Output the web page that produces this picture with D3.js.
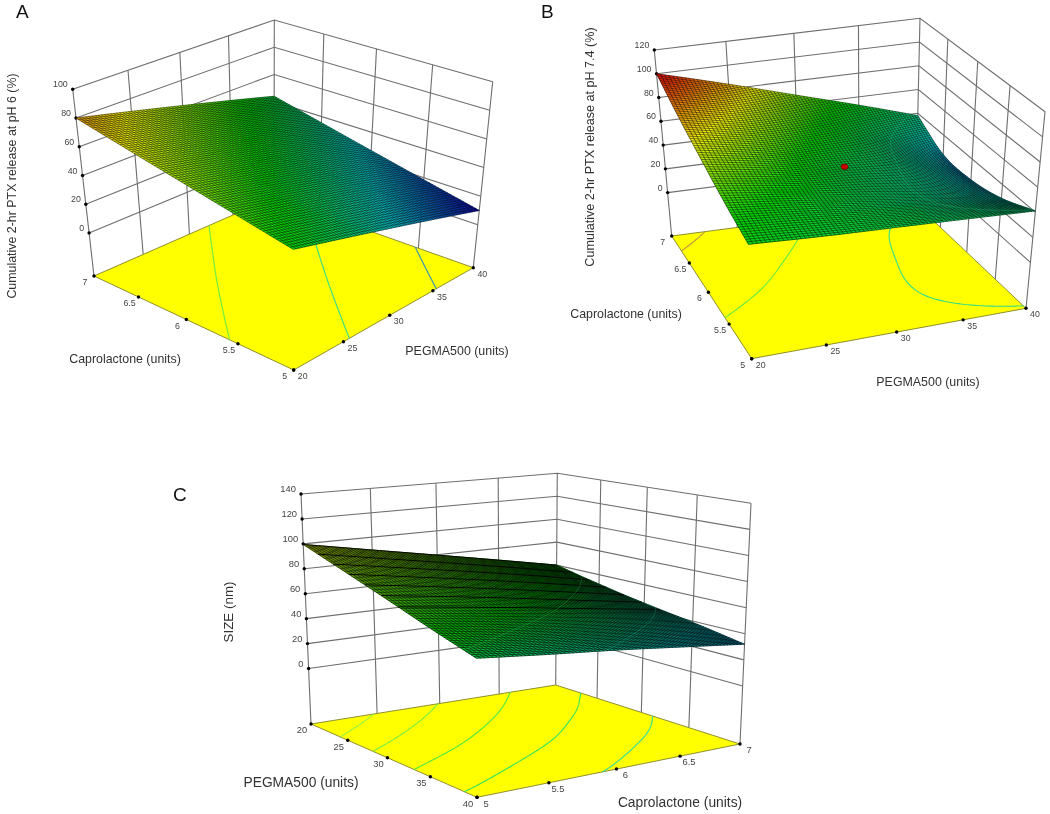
<!DOCTYPE html>
<html>
<head>
<meta charset="utf-8">
<title>Response surfaces</title>
<script src="https://cdn.jsdelivr.net/npm/d3@7"></script>
<style>
  body { margin: 0; background: #fff; }
  text { font-family: "Liberation Sans", Arial, sans-serif; }
</style>
</head>
<body>
<script>
const pegmaTicks = [20, 25, 30, 35, 40]
const caproTicks = [5, 5.5, 6, 6.5, 7]
const caproLabels = ["5", "5.5", "6", "6.5", "7"]

const releasePh6 = [
  [49, 39.2, 29.5, 19.8, 10],
  [56.8, 47.2, 37.6, 28.1, 18.5],
  [64.5, 55.1, 45.7, 36.4, 27],
  [72.2, 63, 53.9, 44.7, 35.5],
  [80, 71, 62, 53, 44]
]
const releasePh74 = [
  [54, 50, 47, 44, 41],
  [63, 55, 46, 38, 29],
  [74, 63, 49, 38, 23],
  [86, 73, 58, 42, 24],
  [100, 84, 68, 53, 38]
]
// one row per PEGMA step (20 -> 40), one column per Caprolactone step
const sizeNm = [
  [99.5, 89.5, 79.7, 69.9, 60],
  [87.6, 79, 70.4, 61.5, 52],
  [75.7, 68.4, 60.7, 52.7, 45],
  [63.5, 57, 51, 45, 39],
  [52, 47, 42.5, 37.3, 32]
]

const ph6Ticks = [0, 20, 40, 60, 80, 100]
const ph74Ticks = [0, 20, 40, 60, 80, 100, 120]
const sizeTicks = [0, 20, 40, 60, 80, 100, 120, 140]

const ph6Contours = [19, 38, 58]
const ph74Contours = [40, 65, 92]
const sizeContours = [43.5, 55, 68, 80, 90]

// contours that also show up on the surface itself
const ph74SurfaceContours = [40]
const sizeSurfaceContours = [43.5, 55]

const designPoint = [30, 6] // red dot on panel B

const ramp = ["#0000b4", "#00c0c0", "#00d800", "#f0f000", "#e00000"]

// where the box of each panel sits on the page, and which z values get which ramp colour
const layouts = {
  A: {
    floor: [[293.7, 370], [473.3, 267.7], [274, 197], [94, 276]],
    top: [[293, 171.5], [492.7, 81.7], [274.3, 20], [72.7, 89.3]],
    zFloor: -30, stops: [10, 30, 50, 72, 95]
  },
  B: {
    floor: [[751.7, 358.7], [1026, 308.3], [915.7, 204], [671.7, 236]],
    top: [[746, 161], [1045, 111.7], [920, 18.3], [654.3, 50]],
    zFloor: -36.5, stops: [8, 28, 58, 78, 100]
  },
  C: {
    floor: [[477, 797.3], [740, 744], [555.7, 685], [311, 724]],
    top: [[476, 531.5], [751, 503.3], [557.3, 473.3], [301, 494]],
    zFloor: -44.5, stops: [15, 38, 60, 105, 145]
  }
}

const MESH = 72

const svg = d3.select("body").append("svg")
  .attr("width", 1050)
  .attr("height", 814)
  .style("display", "block")
  .style("filter", "blur(0.35px)")

// unit square -> quad, corners in the order (0,0) (1,0) (1,1) (0,1)
function homography(q) {
  const [[x0, y0], [x1, y1], [x2, y2], [x3, y3]] = q
  const dx1 = x1 - x2, dx2 = x3 - x2, sx = x0 - x1 + x2 - x3
  const dy1 = y1 - y2, dy2 = y3 - y2, sy = y0 - y1 + y2 - y3
  const den = dx1 * dy2 - dx2 * dy1
  const g = (sx * dy2 - dx2 * sy) / den
  const h = (dx1 * sy - sx * dy1) / den
  const a = x1 - x0 + g * x1, b = x3 - x0 + h * x3
  const d = y1 - y0 + g * y1, e = y3 - y0 + h * y3
  return (u, v) => {
    const w = g * u + h * v + 1
    return [(a * u + b * v + x0) / w, (d * u + e * v + y0) / w]
  }
}

function catmull(p0, p1, p2, p3, t) {
  return 0.5 * (2 * p1 + (p2 - p0) * t + (2 * p0 - 5 * p1 + 4 * p2 - p3) * t * t + (3 * p1 - p0 - 3 * p2 + p3) * t * t * t)
}

// smooth value of a row of read-off values at fractional index s
function alongRow(row, s) {
  const n = row.length - 1
  const i = Math.min(Math.floor(s), n - 1)
  const at = k => k < 0 ? 2 * row[0] - row[1] : k > n ? 2 * row[n] - row[n - 1] : row[k]
  return catmull(at(i - 1), at(i), at(i + 1), at(i + 2), s - i)
}

function surfaceAt(rows, col, row) {
  return alongRow(rows.map(r => alongRow(r, col)), row)
}

function drawPanel(cfg) {
  const g = svg.append("g")
  const lay = layouts[cfg.key]
  const floorH = homography(lay.floor), topH = homography(lay.top)

  const xScale = d3.scaleLinear().domain(d3.extent(cfg.xTicks)).range(cfg.xRange)
  const yScale = d3.scaleLinear().domain(d3.extent(cfg.yTicks)).range(cfg.yRange)
  const zScale = d3.scaleLinear().domain([lay.zFloor, d3.max(cfg.zTicks)]).range([0, 1])

  const project = (x, y, z) => {
    const a = floorH(xScale(x), yScale(y)), b = topH(xScale(x), yScale(y)), t = zScale(z)
    return [a[0] + (b[0] - a[0]) * t, a[1] + (b[1] - a[1]) * t]
  }
  const seg = pts => d3.line()(pts)

  const [xMin, xMax] = d3.extent(cfg.xTicks)
  const [yMin, yMax] = d3.extent(cfg.yTicks)
  const zLow = lay.zFloor, zHigh = d3.max(cfg.zTicks)
  const xBack = cfg.xRange[1] === 1 ? xMax : xMin
  const yBack = cfg.yRange[1] === 1 ? yMax : yMin
  const xFront = xBack === xMax ? xMin : xMax
  const yFront = yBack === yMax ? yMin : yMax

  // walls
  const wallLines = []
  cfg.zTicks.forEach(z => {
    wallLines.push([project(xFront, yBack, z), project(xBack, yBack, z), project(xBack, yFront, z)])
  })
  cfg.xTicks.forEach(x => {
    if (x !== xFront) wallLines.push([project(x, yBack, zLow), project(x, yBack, zHigh)])
  })
  cfg.yTicks.forEach(y => {
    if (y !== yBack) wallLines.push([project(xBack, y, zLow), project(xBack, y, zHigh)])
  })
  wallLines.push([project(xFront, yBack, zLow), project(xFront, yBack, zHigh)])

  g.append("g").selectAll("path").data(wallLines).join("path")
    .attr("d", seg)
    .attr("fill", "none")
    .attr("stroke", "#6e6e6e")
    .attr("stroke-width", 1.1)

  // floor
  g.append("path")
    .attr("d", seg([project(xFront, yFront, zLow), project(xBack, yFront, zLow), project(xBack, yBack, zLow), project(xFront, yBack, zLow)]) + "Z")
    .attr("fill", "#ffff00")
    .attr("stroke", "#8f8f2e")
    .attr("stroke-width", 1)

  // fine mesh: the read-off values are smoothed only for drawing
  const colFor = d3.scaleLinear().domain([0, MESH]).range([0, cfg.xTicks.length - 1])
  const rowFor = d3.scaleLinear().domain([0, MESH]).range([0, cfg.yTicks.length - 1])
  const xAt = d3.scaleLinear().domain([0, MESH]).range(d3.extent(cfg.xTicks))
  const yAt = d3.scaleLinear().domain([0, MESH]).range(d3.extent(cfg.yTicks))
  const grid = d3.range(MESH + 1).map(j => d3.range(MESH + 1).map(i => surfaceAt(cfg.values, colFor(i), rowFor(j))))

  const color = d3.scaleLinear().domain(lay.stops).range(ramp).clamp(true)

  // contour segments on the mesh, marching squares
  function contour(level) {
    const out = []
    const cross = (a, b, pa, pb) => {
      const t = (level - a) / (b - a)
      return [pa[0] + (pb[0] - pa[0]) * t, pa[1] + (pb[1] - pa[1]) * t]
    }
    for (let j = 0; j < MESH; j++) {
      for (let i = 0; i < MESH; i++) {
        const c = [[i, j], [i + 1, j], [i + 1, j + 1], [i, j + 1]]
        const hits = []
        c.forEach((p, k) => {
          const q = c[(k + 1) % 4]
          const a = grid[p[1]][p[0]], b = grid[q[1]][q[0]]
          if ((a < level) !== (b < level)) hits.push(cross(a, b, [xAt(p[0]), yAt(p[1])], [xAt(q[0]), yAt(q[1])]))
        })
        if (hits.length >= 2) out.push([hits[0], hits[1]])
        if (hits.length === 4) out.push([hits[2], hits[3]])
      }
    }
    return out
  }

  const contourInk = lv => d3.interpolateRgb(color(lv), "#80ffc0")(0.35)
  const contours = cfg.contours.map(lv => ({ lv, segs: contour(lv) }))

  // contour lines on the floor
  g.append("g").selectAll("path").data(contours).join("path")
    .attr("d", c => c.segs.map(s => seg(s.map(p => project(p[0], p[1], zLow)))).join(""))
    .attr("fill", "none")
    .attr("stroke", c => contourInk(c.lv))
    .attr("stroke-width", 1.1)

  // axis ticks and their labels
  const dots = []
  cfg.zTicks.forEach(z => dots.push({ p: project(xFront, yBack, z), t: String(z), dx: -5, dy: -5, anchor: "end" }))
  cfg.xTicks.forEach((x, i) => dots.push({ p: project(x, yFront, zLow), t: cfg.xLabels[i], dx: 9, dy: 6, anchor: "middle" }))
  cfg.yTicks.forEach((y, i) => dots.push({ p: project(xFront, y, zLow), t: cfg.yLabels[i], dx: -9, dy: 6, anchor: "middle" }))

  g.append("g").selectAll("circle").data(dots).join("circle")
    .attr("cx", d => d.p[0])
    .attr("cy", d => d.p[1])
    .attr("r", 1.7)
    .attr("fill", "#000")

  g.append("g").selectAll("text").data(dots).join("text")
    .attr("x", d => d.p[0] + d.dx)
    .attr("y", d => d.p[1] + d.dy)
    .attr("dy", "0.35em")
    .attr("text-anchor", d => d.anchor)
    .attr("font-size", cfg.tickSize)
    .attr("fill", "#444")
    .text(d => d.t)

  // surface cells
  const cells = []
  for (let j = 0; j < MESH; j++) {
    for (let i = 0; i < MESH; i++) {
      const corners = [[i, j], [i + 1, j], [i + 1, j + 1], [i, j + 1]]
      const pts = corners.map(c => project(xAt(c[0]), yAt(c[1]), grid[c[1]][c[0]]))
      cells.push({ pts, z: d3.mean(corners, c => grid[c[1]][c[0]]) })
    }
  }
  g.append("g").selectAll("path").data(cells).join("path")
    .attr("d", c => seg(c.pts) + "Z")
    .attr("fill", c => color(c.z))
    .attr("stroke", c => color(c.z))
    .attr("stroke-width", 0.4)

  // wires
  let wires = ""
  for (let j = 0; j <= MESH; j++) wires += seg(d3.range(MESH + 1).map(i => project(xAt(i), yAt(j), grid[j][i])))
  for (let i = 0; i <= MESH; i++) wires += seg(d3.range(MESH + 1).map(j => project(xAt(i), yAt(j), grid[j][i])))
  g.append("path")
    .attr("d", wires)
    .attr("fill", "none")
    .attr("stroke", "#000")
    .attr("stroke-width", cfg.wire)
    .attr("stroke-opacity", cfg.wireOpacity)

  // panel C shows darker bands running across the back half of the surface
  if (cfg.accentEvery) {
    let bands = ""
    for (let j = 0; j <= MESH; j += cfg.accentEvery) {
      if (yAt(j) < cfg.accentUntil) bands += seg(d3.range(MESH + 1).map(i => project(xAt(i), yAt(j), grid[j][i])))
    }
    g.append("path")
      .attr("d", bands)
      .attr("fill", "none")
      .attr("stroke", "#000")
      .attr("stroke-width", 0.9)
  }

  // contours again on the surface, only where the reference shows them
  g.append("g").selectAll("path").data(contours.filter(c => cfg.surfaceContours.includes(c.lv))).join("path")
    .attr("d", c => c.segs.map(s => seg(s.map(p => project(p[0], p[1], c.lv)))).join(""))
    .attr("fill", "none")
    .attr("stroke", c => contourInk(c.lv))
    .attr("stroke-width", 0.6)
    .attr("stroke-opacity", 0.4)

  if (cfg.point) {
    const col = d3.scaleLinear().domain(d3.extent(cfg.xTicks)).range([0, cfg.xTicks.length - 1])(cfg.point[0])
    const row = d3.scaleLinear().domain(d3.extent(cfg.yTicks)).range([0, cfg.yTicks.length - 1])(cfg.point[1])
    const p = project(cfg.point[0], cfg.point[1], surfaceAt(cfg.values, col, row))
    g.append("ellipse")
      .attr("cx", p[0]).attr("cy", p[1])
      .attr("rx", 3.6).attr("ry", 2.8)
      .attr("fill", "#c80000")
      .attr("stroke", "#400")
      .attr("stroke-width", 0.5)
  }

  // titles
  cfg.labels.forEach(l => {
    g.append("text")
      .attr("transform", `translate(${l.x},${l.y}) rotate(${l.rotate || 0})`)
      .attr("text-anchor", "middle")
      .attr("dy", "0.35em")
      .attr("font-size", l.size)
      .attr("fill", "#333")
      .text(l.text)
  })

  g.append("text")
    .attr("x", cfg.letter[0])
    .attr("y", cfg.letter[1])
    .attr("font-size", 19)
    .attr("fill", "#111")
    .text(cfg.key)
}

drawPanel({
  key: "A",
  xTicks: pegmaTicks, xLabels: pegmaTicks.map(String), xRange: [0, 1],
  yTicks: caproTicks, yLabels: caproLabels, yRange: [0, 1],
  zTicks: ph6Ticks,
  values: releasePh6,
  contours: ph6Contours,
  surfaceContours: [],
  wire: 0.6, wireOpacity: 0.8, tickSize: 8.8,
  letter: [16, 18],
  labels: [
    { text: "Cumulative 2-hr PTX release at pH 6 (%)", x: 12, y: 186, rotate: -90, size: 12.4 },
    { text: "Caprolactone (units)", x: 125, y: 359, size: 12.4 },
    { text: "PEGMA500 (units)", x: 457, y: 351, size: 12.4 }
  ]
})

drawPanel({
  key: "B",
  xTicks: pegmaTicks, xLabels: pegmaTicks.map(String), xRange: [0, 1],
  yTicks: caproTicks, yLabels: caproLabels, yRange: [0, 1],
  zTicks: ph74Ticks,
  values: releasePh74,
  contours: ph74Contours,
  surfaceContours: ph74SurfaceContours,
  point: designPoint,
  wire: 0.6, wireOpacity: 0.85, tickSize: 8.8,
  letter: [541, 18],
  labels: [
    { text: "Cumulative 2-hr PTX release at pH 7.4 (%)", x: 590, y: 147, rotate: -90, size: 12.6 },
    { text: "Caprolactone (units)", x: 626, y: 314, size: 12.4 },
    { text: "PEGMA500 (units)", x: 928, y: 382, size: 12.4 }
  ]
})

drawPanel({
  key: "C",
  xTicks: caproTicks, xLabels: caproLabels, xRange: [0, 1],
  yTicks: pegmaTicks, yLabels: pegmaTicks.map(String), yRange: [1, 0],
  zTicks: sizeTicks,
  values: sizeNm,
  contours: sizeContours,
  surfaceContours: sizeSurfaceContours,
  wire: 0.75, wireOpacity: 0.85, tickSize: 9.4,
  accentEvery: 7, accentUntil: 33,
  letter: [173, 501],
  labels: [
    { text: "SIZE (nm)", x: 228, y: 612, rotate: -90, size: 13.4 },
    { text: "PEGMA500 (units)", x: 301, y: 782, size: 13.8 },
    { text: "Caprolactone (units)", x: 680, y: 802, size: 13.8 }
  ]
})
</script>
</body>
</html>
